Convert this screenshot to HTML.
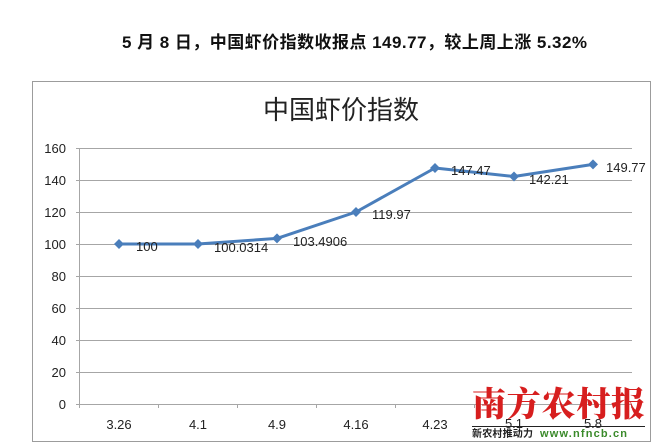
<!DOCTYPE html>
<html><head><meta charset="utf-8"><style>
html,body{margin:0;padding:0;background:#fff;}
svg{display:block;}
</style></head><body>
<svg width="655" height="444" viewBox="0 0 655 444" xmlns="http://www.w3.org/2000/svg">
<rect width="655" height="444" fill="#fff"/>
<text x="122" y="48" font-family="'Liberation Sans','Noto Sans CJK SC',sans-serif" font-size="17" font-weight="bold" fill="#111" textLength="465" lengthAdjust="spacing">5 月 8 日，中国虾价指数收报点 149.77，较上周上涨 5.32%</text>
<rect x="32.5" y="81.5" width="618" height="360" fill="#fff" stroke="#9c9c9c" stroke-width="1"/>
<text x="263" y="119" font-family="'Liberation Sans','Noto Sans CJK SC',sans-serif" font-size="26" fill="#222" textLength="156" lengthAdjust="spacing">中国虾价指数</text>
<g stroke="#a6a6a6" stroke-width="1">
<line x1="76" y1="148.5" x2="632" y2="148.5"/>
<line x1="76" y1="180.5" x2="632" y2="180.5"/>
<line x1="76" y1="212.5" x2="632" y2="212.5"/>
<line x1="76" y1="244.5" x2="632" y2="244.5"/>
<line x1="76" y1="276.5" x2="632" y2="276.5"/>
<line x1="76" y1="308.5" x2="632" y2="308.5"/>
<line x1="76" y1="340.5" x2="632" y2="340.5"/>
<line x1="76" y1="372.5" x2="632" y2="372.5"/>
<line x1="76" y1="404.5" x2="632" y2="404.5"/>
<line x1="79.5" y1="148" x2="79.5" y2="408"/>
<line x1="158.5" y1="404" x2="158.5" y2="408"/>
<line x1="237.5" y1="404" x2="237.5" y2="408"/>
<line x1="316.5" y1="404" x2="316.5" y2="408"/>
<line x1="395.5" y1="404" x2="395.5" y2="408"/>
<line x1="474.5" y1="404" x2="474.5" y2="408"/>
<line x1="553.5" y1="404" x2="553.5" y2="408"/>
<line x1="631.5" y1="404" x2="631.5" y2="408"/>
</g>
<g font-family="'Liberation Sans',sans-serif" font-size="13" fill="#222" text-anchor="end">
<text x="66" y="153">160</text>
<text x="66" y="185">140</text>
<text x="66" y="217">120</text>
<text x="66" y="249">100</text>
<text x="66" y="281">80</text>
<text x="66" y="313">60</text>
<text x="66" y="345">40</text>
<text x="66" y="377">20</text>
<text x="66" y="409">0</text>
</g>
<g font-family="'Liberation Sans',sans-serif" font-size="13" fill="#222" text-anchor="middle">
<text x="119" y="429">3.26</text>
<text x="198" y="429">4.1</text>
<text x="277" y="429">4.9</text>
<text x="356" y="429">4.16</text>
<text x="435" y="429">4.23</text>
<text x="514" y="428">5.1</text>
<text x="593" y="428">5.8</text>
</g>
<polyline points="119,244 198,244 277,238.4 356,212 435,168 514,176.5 593,164.4" fill="none" stroke="#4a7ebb" stroke-width="3" stroke-linejoin="round"/>
<g fill="#4a7ebb">
<polygon points="119,239 124,244 119,249 114,244"/>
<polygon points="198,239 203,244 198,249 193,244"/>
<polygon points="277,233.4 282,238.4 277,243.4 272,238.4"/>
<polygon points="356,207 361,212 356,217 351,212"/>
<polygon points="435,163 440,168 435,173 430,168"/>
<polygon points="514,171.5 519,176.5 514,181.5 509,176.5"/>
<polygon points="593,159.4 598,164.4 593,169.4 588,164.4"/>
</g>
<g font-family="'Liberation Sans',sans-serif" font-size="13" fill="#222">
<text x="136" y="251">100</text>
<text x="214" y="252">100.0314</text>
<text x="293" y="246">103.4906</text>
<text x="372" y="219">119.97</text>
<text x="451" y="175">147.47</text>
<text x="529" y="184">142.21</text>
<text x="606" y="172">149.77</text>
</g>
<text x="472" y="416" font-family="'Noto Serif CJK SC','WenQuanYi Zen Hei',serif" font-size="34" font-weight="900" fill="#d71e1e" textLength="173" lengthAdjust="spacing">南方农村报</text>
<line x1="472" y1="426.5" x2="645" y2="426.5" stroke="#222" stroke-width="1"/>
<text x="472" y="437" font-family="'Liberation Sans','Noto Sans CJK SC',sans-serif" font-size="10" font-weight="bold" fill="#222" textLength="61" lengthAdjust="spacing">新农村推动力</text>
<text x="540" y="437" font-family="'Liberation Sans',sans-serif" font-size="11" font-weight="bold" fill="#3a8a2a" textLength="87" lengthAdjust="spacing">www.nfncb.cn</text>
</svg>
</body></html>
